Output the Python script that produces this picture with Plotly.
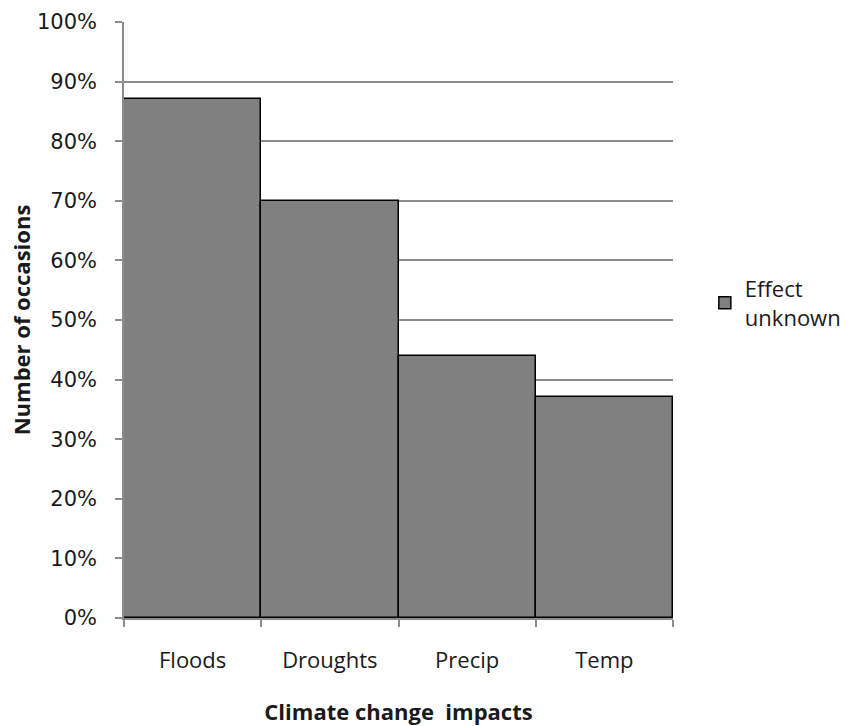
import plotly.graph_objects as go

# Share of occasions where the effect was unknown, by climate change impact
impacts = ["Floods", "Droughts", "Precip", "Temp"]
effect_unknown = [0.87, 0.70, 0.44, 0.37]
y_ticks = [i / 10 for i in range(11)]
y_tick_labels = [f"{i * 10}%" for i in range(11)]

W, H = 847, 726
L, R, T, B = 124, 174, 22, 108

fig = go.Figure()
fig.add_trace(go.Bar(
    x=impacts,
    y=effect_unknown,
    name="Effect<br>unknown",
    marker=dict(color="#808080", line=dict(color="#000000", width=1.5)),
))

fig.update_layout(
    width=W, height=H,
    margin=dict(l=L, r=R, t=T, b=B, pad=0, autoexpand=False),
    paper_bgcolor="white", plot_bgcolor="white",
    bargap=0,
    font=dict(family="Open Sans", size=22, color="#1a1a1a"),
    showlegend=True,
    legend=dict(
        x=1.058, y=0.588, xanchor="left", yanchor="top",
        font=dict(family="Open Sans", size=22, color="#1a1a1a"),
        bgcolor="rgba(0,0,0,0)", itemwidth=30,
    ),
    xaxis=dict(
        showline=True, linecolor="#8c8c8c", linewidth=1.5,
        ticks="outside", tickson="boundaries", ticklen=7,
        tickcolor="#8c8c8c", tickwidth=1.5,
        showgrid=False,
        tickfont=dict(family="Open Sans", size=22),
        ticklabelstandoff=22,
        title=dict(text="Climate change\u00a0\u00a0impacts", standoff=37,
                   font=dict(family="Open Sans", size=22, weight="bold")),
    ),
    yaxis=dict(
        range=[0, 1],
        tickvals=y_ticks, ticktext=y_tick_labels,
        showline=True, linecolor="#8c8c8c", linewidth=1.5,
        ticks="outside", ticklen=7, tickcolor="#8c8c8c", tickwidth=1.5,
        showgrid=True, gridcolor="#8c8c8c", gridwidth=1.5,
        zeroline=False,
        tickfont=dict(family="DejaVu Sans", size=21),
        ticklabelstandoff=14,
        title=dict(text="Number of occasions", standoff=0,
                   font=dict(family="Open Sans", size=22, weight="bold")),
    ),
)

fig.write_html("out.html")
